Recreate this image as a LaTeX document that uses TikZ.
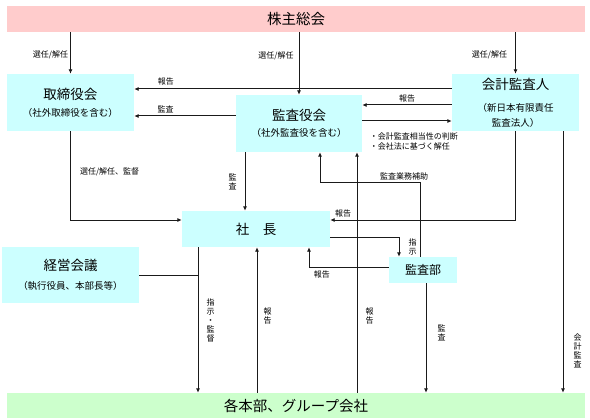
\documentclass[tikz,border=0pt]{standalone}
\usepackage{fontspec}
\setmainfont{Noto Sans CJK JP}
\usepackage{xcolor}
\usepackage{tikz}
\usetikzlibrary{arrows.meta}

\definecolor{boxcyan}{HTML}{CCFFFF}
\definecolor{boxpink}{HTML}{FFCCCC}
\definecolor{boxgreen}{HTML}{CCFFCC}
\definecolor{linegray}{HTML}{1A1A1A}
\newcommand{\boxtitle}[1]{{\fontsize{13.5}{16}\selectfont #1}}

\begin{document}
\begin{tikzpicture}[x=1pt, y=-1pt,
        line/.style={draw=linegray, line width=1pt},
        arr/.style={line, -{Latex[length=4.5pt, width=4pt]}},
        wide/.style={minimum width=578pt, inner sep=0pt, font=\fontsize{14.5}{17}\selectfont},
        body/.style={fill=boxcyan, inner sep=0pt, align=center, font=\fontsize{9.5}{12}\selectfont},
        lbl/.style={font=\fontsize{8}{10}\selectfont, inner sep=1pt},
        vlbl/.style={lbl, align=center, font=\fontsize{8}{9}\selectfont}]
        \useasboundingbox (0,0) rectangle (590,420);

        % Top and bottom bars
        \node[wide, fill=boxpink, minimum height=26pt] (kabunushi) at (296,19) {株主総会};
        \node[wide, fill=boxgreen, minimum height=25pt] (honbu) at (296,405.5) {各本部、グループ会社};

        % Boards and bodies
        \node[body, minimum width=127pt, minimum height=57pt] (torishimari) at (70.5,102.5)
            {\boxtitle{取締役会}\\[5pt]（社外取締役を含む）};
        \node[body, minimum width=126pt, minimum height=57pt] (kansayakukai) at (299,123.5)
            {\boxtitle{監査役会}\\[4.5pt]（社外監査役を含む）};
        \node[body, minimum width=127pt, minimum height=57pt] (kaikei) at (515.5,102.5)
            {\boxtitle{会計監査人}\\[10pt]（新日本有限責任\\[3pt]監査法人）};
        \node[body, minimum width=148pt, minimum height=36pt] (shacho) at (256,229) {\boxtitle{社　長}};
        \node[body, minimum width=137pt, minimum height=56pt] (keiei) at (70.5,275)
            {\boxtitle{経営会議}\\[7pt]（執行役員、本部長等）};
        \node[body, minimum width=68pt, minimum height=26pt] (kansabu) at (423,270)
            {\fontsize{12}{14}\selectfont 監査部};

        % Election by the shareholders meeting
        \draw[arr] (kabunushi.south -| torishimari) -- node[lbl, left=1pt, pos=0.55] {選任/解任} (torishimari.north);
        \draw[arr] (kabunushi.south -| kansayakukai) -- node[lbl, left=4pt, pos=0.37] {選任/解任} (kansayakukai.north);
        \draw[arr] (kabunushi.south -| kaikei) -- node[lbl, left=7pt, pos=0.55] {選任/解任} (kaikei.north);

        % Reports and audits between the boards
        \draw[arr] ([yshift=13.5pt]kaikei.west) -- node[lbl, above=2pt, pos=0.9] {報告} ([yshift=13.5pt]torishimari.east);
        \draw[arr] ([yshift=7.5pt]kansayakukai.west) -- node[lbl, above=2pt, pos=0.69] {監査} ([yshift=-13.5pt]torishimari.east);
        \draw[arr] ([yshift=-2.5pt]kaikei.west) -- node[lbl, above=1pt] {報告} ([yshift=18.5pt]kansayakukai.east);
        \draw[arr] ([yshift=2.5pt]kansayakukai.east) -- node[lbl, pos=0.07, anchor=north west, yshift=-10pt, align=left]
            {・会計監査相当性の判断\\・会社法に基づく解任} ([yshift=-18.5pt]kaikei.west);

        % President
        \draw[arr] (torishimari.south) |- node[lbl, right=8pt, pos=0.23] {選任/解任、監督} ([yshift=9pt]shacho.west);
        \draw[arr] ([xshift=-54pt]kansayakukai.south) -- node[vlbl, left=7pt] {監\\査} ([xshift=-11pt]shacho.north);
        \draw[arr] (kaikei.south) |- node[lbl, above=1pt, pos=0.965] {報告} ([yshift=9pt]shacho.east);

        % Internal audit department
        \draw[arr] ([yshift=-8pt]shacho.east) -| node[vlbl, right=8pt, pos=0.75] {指\\示} ([xshift=-24pt]kansabu.north);
        \draw[arr] ([yshift=3pt]kansabu.west) -| node[lbl, below=2pt, pos=0.42] {報告} ([xshift=53pt]shacho.south);
        \draw[arr] ([xshift=-3pt]kansabu.north) -- ++(0,-74) node[lbl, above=1pt, xshift=-16pt] {監査業務補助}
            -| ([xshift=21pt]kansayakukai.south);

        % Departments and group companies
        \draw[arr] ([xshift=61pt]honbu.north) -- node[vlbl, right=7pt, pos=0.32] {報\\告} ([xshift=58pt]kansayakukai.south);
        \draw[arr] ([xshift=-58pt]shacho.south) coordinate (shiji) -- node[vlbl, right=7pt] {指\\示\\・\\監\\督} ([xshift=-98pt]honbu.north);
        \draw[line] (keiei.east) -- (keiei.east -| shiji);
        \draw[arr] ([xshift=-39pt]honbu.north) -- node[vlbl, right=5pt, pos=0.53] {報\\告} ([xshift=1pt]shacho.south);
        \draw[arr] ([xshift=3pt]kansabu.south) -- node[vlbl, right=10pt, pos=0.45] {監\\査} ([xshift=130pt]honbu.north);
        \draw[arr] ([xshift=47.5pt]kaikei.south) -- node[vlbl, right=9pt, pos=0.84] {会\\計\\監\\査} ([xshift=267pt]honbu.north);
\end{tikzpicture}
\end{document}
